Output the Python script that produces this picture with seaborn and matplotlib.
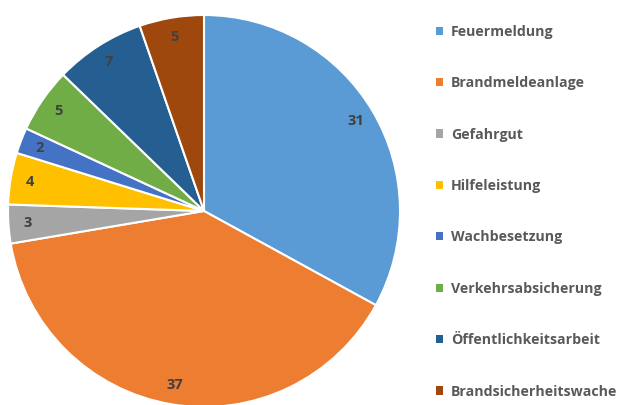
import matplotlib
matplotlib.use("Agg")
import matplotlib.pyplot as plt
from matplotlib.patches import Patch
import seaborn as sns

categories = ['Feuermeldung', 'Brandmeldeanlage', 'Gefahrgut', 'Hilfeleistung',
              'Wachbesetzung', 'Verkehrsabsicherung', 'Öffentlichkeitsarbeit',
              'Brandsicherheitswache']
counts = [31, 37, 3, 4, 2, 5, 7, 5]
colours = ['#5B9BD5', '#ED7D31', '#A5A5A5', '#FFC000',
           '#4472C4', '#70AD47', '#255E91', '#9E480E']

sns.set_theme(style='white')
plt.rcParams['font.family'] = ['Open Sans', 'DejaVu Sans']
palette = sns.color_palette(colours)

fig = plt.figure(figsize=(6.2, 4.05), dpi=100)
# pie axes placed in pixel terms so the circle runs off the bottom a little
ax = fig.add_axes([8 / 620, -2 / 405, 392 / 620, 392 / 405])

total = sum(counts)
wedges, texts, autotexts = ax.pie(
    counts,
    colors=palette,
    startangle=90,
    counterclock=False,
    radius=1.0,
    autopct=lambda p: f'{round(p * total / 100):d}',
    pctdistance=0.9,
    wedgeprops={'edgecolor': 'white', 'linewidth': 1.5},
    textprops={'color': '#404040', 'fontsize': 10.5, 'fontweight': 'bold'},
)
ax.set_xlim(-1, 1)
ax.set_ylim(-1, 1)
ax.set_aspect('equal')

handles = [Patch(facecolor=c, edgecolor='none') for c in palette]
leg = fig.legend(
    handles, categories,
    loc='upper left',
    bbox_to_anchor=(423 / 620, 1 - 12 / 405),
    frameon=False,
    handlelength=0.5, handleheight=0.5, handletextpad=0.55,
    labelspacing=2.64,
    prop={'size': 10.2, 'weight': 'bold'},
)
for t in leg.get_texts():
    t.set_color('#595959')

fig.savefig('out.png', dpi=100)
